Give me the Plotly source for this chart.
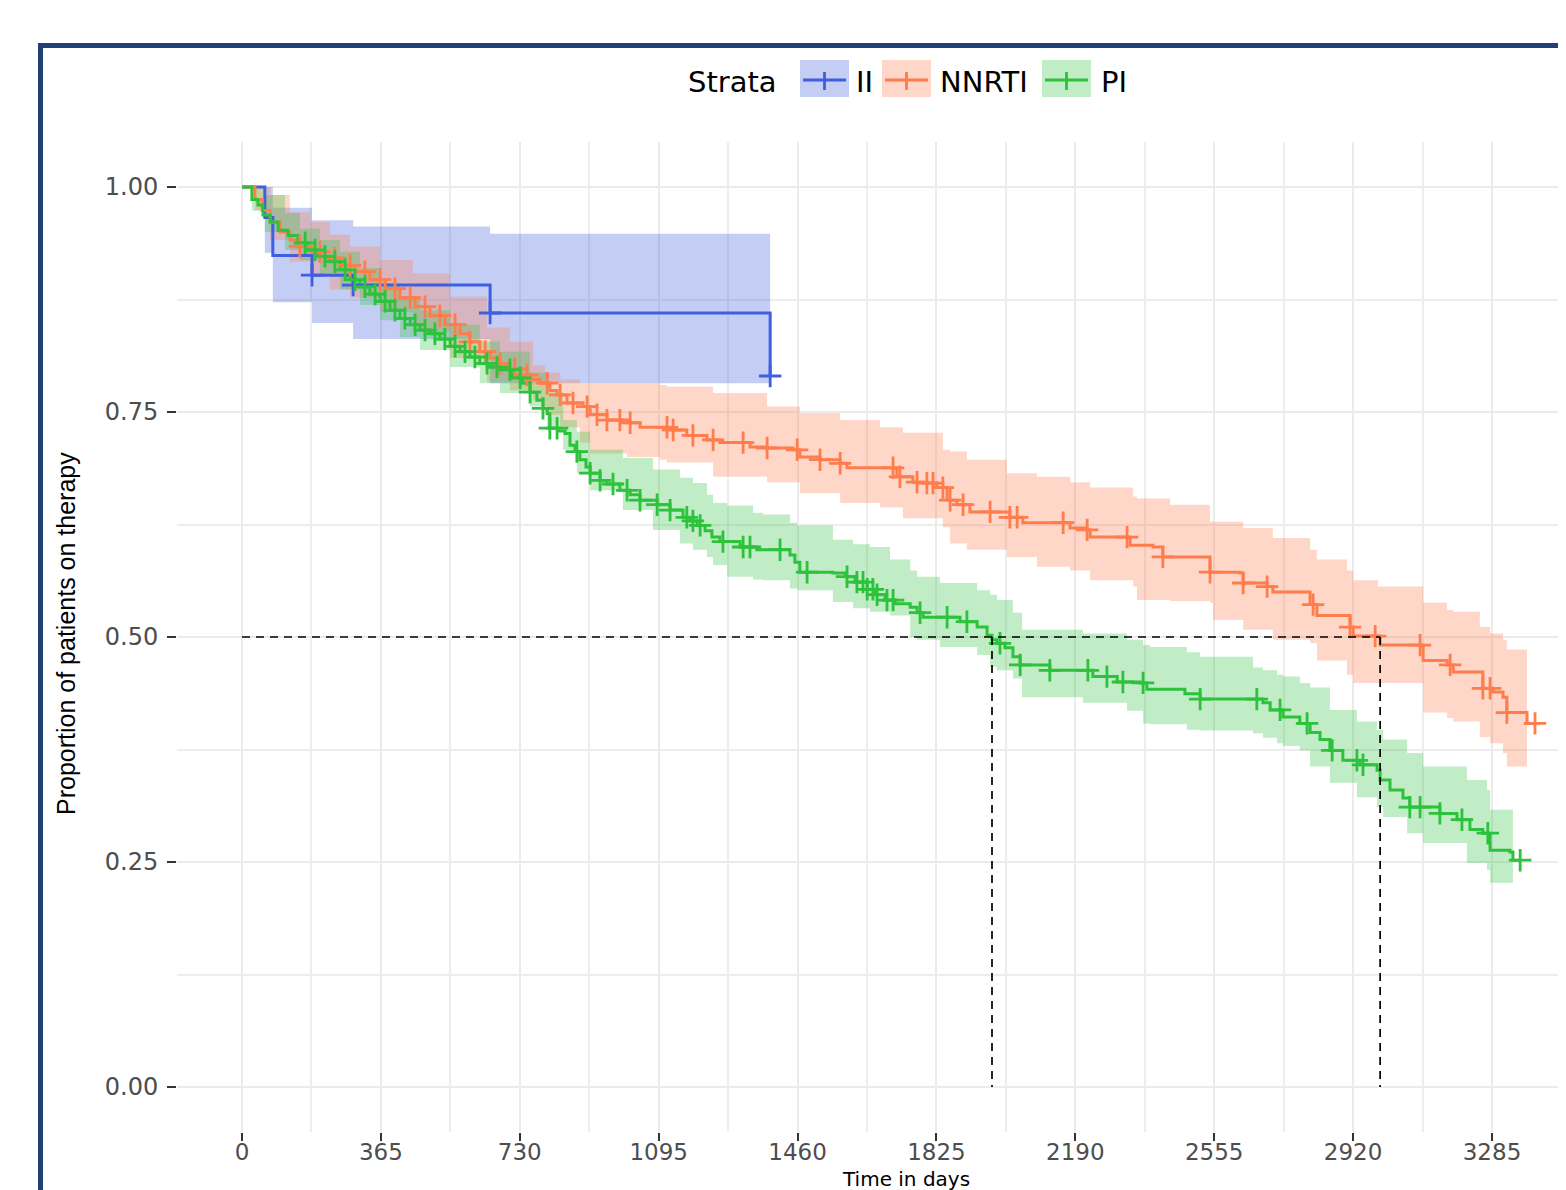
import numpy as np
import plotly.graph_objects as go

# ---------------- data (days, survival proportion) ----------------
strata = ["II", "NNRTI", "PI"]

ii_t = [0, 60, 81, 184, 292, 652, 1388]
ii_s = [1.0, 0.966, 0.924, 0.902, 0.891, 0.86, 0.79]
ii_end = 1388
ii_band_t = [0, 60, 81, 184, 292, 652, 1388]
ii_upper = [1.0, 1.0, 0.977, 0.963, 0.956, 0.948, 0.79]
ii_lower = [1.0, 0.927, 0.872, 0.849, 0.831, 0.782, 0.79]
ii_band_end = 1388
ii_censor = [184, 292, 652, 1388]

nn_t = [0, 34, 53, 74, 100, 126, 152, 184, 218, 258, 297, 336, 376, 415, 455, 494, 533,
        573, 599, 625, 652, 678, 704, 731, 757, 783, 809, 828, 854, 896, 915, 959, 1012,
        1046, 1133, 1169, 1222, 1256, 1335, 1380, 1448, 1466, 1519, 1572, 1590, 1721, 1763,
        1790, 1826, 1853, 1879, 1913, 2018, 2052, 2176, 2221, 2229, 2334, 2394, 2420, 2544,
        2623, 2631, 2694, 2709, 2807, 2825, 2912, 2920, 2991, 3104, 3167, 3183, 3261, 3287,
        3314, 3324, 3377]
nn_s = [1.0, 0.986, 0.974, 0.961, 0.950, 0.941, 0.934, 0.928, 0.921, 0.913, 0.906, 0.897,
        0.887, 0.877, 0.867, 0.857, 0.847, 0.837, 0.828, 0.817, 0.810, 0.804, 0.798, 0.791,
        0.786, 0.782, 0.774, 0.769, 0.760, 0.756, 0.747, 0.741, 0.738, 0.733, 0.730, 0.724,
        0.719, 0.716, 0.711, 0.710, 0.708, 0.700, 0.697, 0.693, 0.688, 0.678, 0.672, 0.671,
        0.666, 0.652, 0.647, 0.639, 0.633, 0.627, 0.621, 0.619, 0.611, 0.602, 0.600, 0.589,
        0.572, 0.571, 0.560, 0.556, 0.550, 0.536, 0.524, 0.511, 0.501, 0.491, 0.474, 0.469,
        0.461, 0.443, 0.439, 0.433, 0.416, 0.404]
nn_end = 3398
nn_band_t = [0, 34, 74, 126, 179, 231, 284, 363, 449, 547, 644, 704, 765, 796, 836, 888,
             915, 1012, 1098, 1117, 1238, 1380, 1466, 1572, 1677, 1737, 1842, 1861, 1905,
             2010, 2089, 2176, 2229, 2342, 2352, 2439, 2544, 2552, 2631, 2709, 2807, 2825,
             2904, 2920, 2985, 3104, 3167, 3183, 3253, 3280, 3314, 3324]
nn_upper = [1.0, 1.0, 0.991, 0.972, 0.961, 0.947, 0.934, 0.919, 0.904, 0.878, 0.844, 0.828,
            0.802, 0.794, 0.786, 0.782, 0.782, 0.782, 0.780, 0.778, 0.771, 0.756, 0.749,
            0.741, 0.733, 0.727, 0.708, 0.706, 0.697, 0.682, 0.678, 0.672, 0.666, 0.656,
            0.654, 0.647, 0.628, 0.628, 0.621, 0.610, 0.597, 0.586, 0.574, 0.563, 0.556,
            0.538, 0.530, 0.528, 0.511, 0.504, 0.497, 0.486]
nn_lower = [1.0, 0.974, 0.941, 0.917, 0.902, 0.886, 0.877, 0.861, 0.839, 0.810, 0.783, 0.774,
            0.763, 0.747, 0.733, 0.716, 0.704, 0.700, 0.697, 0.694, 0.678, 0.672, 0.660,
            0.649, 0.644, 0.632, 0.622, 0.604, 0.597, 0.589, 0.578, 0.574, 0.563, 0.556,
            0.541, 0.540, 0.538, 0.519, 0.508, 0.497, 0.493, 0.474, 0.458, 0.449, 0.449,
            0.416, 0.410, 0.406, 0.389, 0.382, 0.371, 0.356]
nn_band_end = 3377
nn_censor = [152, 205, 244, 284, 323, 363, 402, 442, 481, 520, 560, 599, 639, 678, 717, 749,
             802, 836, 870, 907, 933, 959, 993, 1020, 1117, 1133, 1185, 1238, 1317, 1380,
             1459, 1519, 1572, 1711, 1729, 1774, 1800, 1816, 1842, 1861, 1895, 1966, 2018,
             2037, 2158, 2221, 2326, 2420, 2544, 2631, 2694, 2815, 2912, 2978, 3096, 3175,
             3261, 3280, 3324, 3398]

pi_t = [0, 26, 42, 55, 74, 95, 121, 147, 173, 200, 231, 258, 284, 310, 336, 363, 389, 415,
        442, 468, 494, 520, 547, 573, 599, 625, 652, 678, 710, 738, 757, 775, 791, 802, 809,
        830, 849, 862, 875, 888, 904, 915, 941, 959, 993, 1020, 1046, 1091, 1125, 1159, 1177,
        1196, 1217, 1235, 1256, 1309, 1353, 1440, 1453, 1466, 1553, 1585, 1611, 1643, 1664,
        1690, 1716, 1756, 1774, 1790, 1887, 1932, 1958, 1971, 1984, 2005, 2026, 2045, 2123,
        2236, 2300, 2360, 2378, 2478, 2518, 2683, 2702, 2736, 2780, 2807, 2833, 2859, 2893,
        2938, 2983, 2991, 3017, 3051, 3069, 3148, 3193, 3227, 3261, 3280, 3332, 3340]
pi_s = [1.0, 0.986, 0.980, 0.969, 0.961, 0.952, 0.946, 0.938, 0.930, 0.923, 0.917, 0.908,
        0.897, 0.889, 0.881, 0.873, 0.863, 0.854, 0.847, 0.841, 0.837, 0.831, 0.823, 0.817,
        0.811, 0.804, 0.800, 0.797, 0.788, 0.782, 0.772, 0.763, 0.754, 0.748, 0.732, 0.729,
        0.726, 0.713, 0.706, 0.697, 0.689, 0.682, 0.674, 0.670, 0.663, 0.658, 0.652, 0.647,
        0.641, 0.633, 0.629, 0.624, 0.618, 0.611, 0.606, 0.600, 0.597, 0.591, 0.583, 0.572,
        0.571, 0.567, 0.561, 0.553, 0.547, 0.541, 0.537, 0.533, 0.527, 0.522, 0.517, 0.511,
        0.502, 0.497, 0.493, 0.488, 0.478, 0.469, 0.463, 0.456, 0.450, 0.449, 0.442, 0.437,
        0.431, 0.427, 0.419, 0.411, 0.404, 0.394, 0.386, 0.374, 0.363, 0.358, 0.352, 0.341,
        0.330, 0.321, 0.311, 0.304, 0.297, 0.286, 0.282, 0.263, 0.261, 0.252]
pi_end = 3359
pi_band_t = [0, 26, 60, 113, 152, 205, 258, 310, 363, 415, 468, 547, 625, 678, 757, 802,
             844, 880, 915, 1001, 1080, 1151, 1185, 1222, 1238, 1275, 1343, 1369, 1440, 1459,
             1553, 1606, 1650, 1703, 1756, 1774, 1834, 1932, 1966, 1984, 2026, 2050, 2210,
             2326, 2368, 2386, 2483, 2518, 2657, 2683, 2720, 2736, 2780, 2807, 2859, 2930,
             2983, 2999, 3062, 3104, 3219, 3272, 3280]
pi_upper = [1.0, 1.0, 0.991, 0.971, 0.954, 0.941, 0.928, 0.910, 0.893, 0.877, 0.863, 0.847,
            0.828, 0.817, 0.794, 0.772, 0.741, 0.728, 0.708, 0.699, 0.686, 0.677, 0.671,
            0.658, 0.649, 0.646, 0.638, 0.636, 0.627, 0.624, 0.608, 0.603, 0.600, 0.586,
            0.574, 0.567, 0.560, 0.552, 0.547, 0.541, 0.527, 0.508, 0.504, 0.497, 0.491,
            0.489, 0.483, 0.478, 0.466, 0.463, 0.458, 0.456, 0.449, 0.444, 0.419, 0.406,
            0.397, 0.386, 0.371, 0.356, 0.341, 0.330, 0.308]
pi_lower = [1.0, 0.974, 0.950, 0.930, 0.919, 0.902, 0.886, 0.869, 0.852, 0.833, 0.819, 0.800,
            0.782, 0.771, 0.756, 0.733, 0.708, 0.682, 0.663, 0.641, 0.619, 0.604, 0.597,
            0.589, 0.580, 0.567, 0.564, 0.563, 0.554, 0.552, 0.539, 0.532, 0.528, 0.524,
            0.500, 0.497, 0.489, 0.480, 0.467, 0.463, 0.454, 0.433, 0.427, 0.418, 0.404,
            0.403, 0.397, 0.396, 0.393, 0.388, 0.382, 0.379, 0.374, 0.356, 0.338, 0.322,
            0.311, 0.300, 0.282, 0.271, 0.249, 0.241, 0.227]
pi_band_end = 3340
pi_censor = [166, 192, 218, 244, 271, 297, 323, 350, 376, 402, 428, 455, 481, 507, 533, 560,
             586, 612, 644, 670, 704, 731, 757, 791, 809, 828, 880, 915, 941, 975, 1012, 1046,
             1091, 1125, 1169, 1185, 1204, 1264, 1317, 1335, 1414, 1485, 1590, 1616, 1632,
             1643, 1658, 1669, 1695, 1711, 1782, 1853, 1905, 1992, 2045, 2123, 2223, 2273,
             2315, 2368, 2518, 2667, 2728, 2799, 2865, 2930, 2946, 3069, 3096, 3148, 3206,
             3274, 3359]

x_ticks = [0, 365, 730, 1095, 1460, 1825, 2190, 2555, 2920, 3285]
y_ticks = [0.0, 0.25, 0.5, 0.75, 1.0]

# ---------------- styling ----------------
colors = {"II": "#3F5EE0", "NNRTI": "#FF7C4C", "PI": "#2CC23C"}
fills = {"II": "rgba(64,96,224,0.31)", "NNRTI": "rgba(255,127,79,0.31)",
         "PI": "rgba(47,194,63,0.30)"}

W, H = 1566, 1190
OFF = 8  # page body margin offset
# target plot-area edges in the final picture (pixels)
P_LEFT, P_RIGHT, P_TOP, P_BOTTOM = 177, 1566, 142, 1132
ML = P_LEFT - OFF
MT = P_TOP - OFF
MR = W - (P_RIGHT - OFF)
MB = H - (P_BOTTOM - OFF)
PW, PH = W - ML - MR, H - MT - MB


def px_x(p):
    return (p - P_LEFT) / PW


def px_y(p):
    return (P_BOTTOM - p) / PH


def step_path(t, v, t_end):
    xs, ys = [], []
    for i in range(len(t)):
        nxt = t[i + 1] if i + 1 < len(t) else t_end
        xs += [t[i], nxt]
        ys += [v[i], v[i]]
    return xs, ys


def surv_at(t, s, q):
    idx = np.searchsorted(np.array(t), np.array(q), side="right") - 1
    return list(np.array(s)[idx])


data = {
    "II": (ii_t, ii_s, ii_end, ii_band_t, ii_upper, ii_lower, ii_band_end, ii_censor),
    "NNRTI": (nn_t, nn_s, nn_end, nn_band_t, nn_upper, nn_lower, nn_band_end, nn_censor),
    "PI": (pi_t, pi_s, pi_end, pi_band_t, pi_upper, pi_lower, pi_band_end, pi_censor),
}

fig = go.Figure()

# confidence bands
for k in strata:
    t, s, te, bt, bu, bl, be, cen = data[k]
    ux, uy = step_path(bt, bu, be)
    lx, ly = step_path(bt, bl, be)
    fig.add_trace(go.Scatter(x=ux + lx[::-1], y=uy + ly[::-1], fill="toself",
                             fillcolor=fills[k], mode="lines",
                             line=dict(width=0, color="rgba(0,0,0,0)"),
                             hoverinfo="skip", showlegend=False))

# survival curves
for k in strata:
    t, s, te, bt, bu, bl, be, cen = data[k]
    fig.add_trace(go.Scatter(x=list(t) + [te], y=list(s) + [s[-1]], mode="lines",
                             line=dict(color=colors[k], width=3, shape="hv"),
                             hoverinfo="skip", showlegend=False))

# censor marks
for k in strata:
    t, s, te, bt, bu, bl, be, cen = data[k]
    fig.add_trace(go.Scatter(x=cen, y=surv_at(t, s, cen), mode="markers",
                             marker=dict(symbol="cross-thin", size=16,
                                         line=dict(width=2.8, color=colors[k])),
                             hoverinfo="skip", showlegend=False))

# median survival lines
medians = []
for k in ["NNRTI", "PI"]:
    t, s = data[k][0], data[k][1]
    medians.append(next(tt for tt, ss in zip(t, s) if ss <= 0.5))
dash_style = dict(color="black", width=1.7, dash="8px,6px")
fig.add_trace(go.Scatter(x=[0, max(medians)], y=[0.5, 0.5], mode="lines",
                         line=dash_style, hoverinfo="skip", showlegend=False))
for m in medians:
    fig.add_trace(go.Scatter(x=[m, m], y=[0.5, 0.0], mode="lines",
                             line=dash_style, hoverinfo="skip", showlegend=False))

tick_font = dict(family="DejaVu Sans", size=24, color="#4D4D4D")

px_per_day = 1250 / 3285
fig.update_xaxes(range=[(P_LEFT - 242) / px_per_day, (P_RIGHT - 242) / px_per_day],
                 tickmode="array", tickvals=x_ticks, ticktext=[str(v) for v in x_ticks],
                 showgrid=True, gridcolor="#EBEBEB", gridwidth=1.8,
                 minor=dict(tickmode="linear", tick0=182.5, dtick=365, showgrid=True,
                            gridcolor="#EDEDED", gridwidth=1.5, ticks=""),
                 zeroline=False, showline=False, ticks="outside", ticklen=8,
                 tickwidth=1.8, tickcolor="#333333",
                 tickfont=dict(family="DejaVu Sans", size=23, color="#4D4D4D"),
                 ticklabelstandoff=-9)
fig.update_yaxes(range=[-0.05, 1.05], tickmode="array", tickvals=y_ticks,
                 ticktext=[f"{v:.2f}" for v in y_ticks],
                 showgrid=True, gridcolor="#EBEBEB", gridwidth=1.8,
                 minor=dict(tickmode="linear", tick0=0.125, dtick=0.25, showgrid=True,
                            gridcolor="#EDEDED", gridwidth=1.5, ticks=""),
                 zeroline=False, showline=False, ticks="outside", ticklen=9,
                 tickwidth=1.8, tickcolor="#333333", tickfont=tick_font,
                 ticklabelstandoff=4)

shapes = []
annotations = []

# outer dark frame
shapes.append(dict(type="rect", xref="paper", yref="paper",
                   x0=px_x(40.5), x1=px_x(1620), y0=px_y(45.5), y1=px_y(1240),
                   line=dict(color="#1F4175", width=5), fillcolor="rgba(0,0,0,0)",
                   layer="above"))

# axis titles
annotations.append(dict(text="Proportion of patients on therapy", xref="paper", yref="paper",
                        x=px_x(66), y=px_y(634), textangle=-90, showarrow=False,
                        xanchor="center", yanchor="middle",
                        font=dict(family="Liberation Sans", size=25, color="black")))
annotations.append(dict(text="Time in days", xref="paper", yref="paper",
                        x=px_x(906), y=px_y(1192), showarrow=False,
                        xanchor="center", yanchor="bottom", borderpad=0,
                        font=dict(family="DejaVu Sans", size=20, color="black")))

# manual legend
leg_font = dict(family="DejaVu Sans", size=29, color="black")
annotations.append(dict(text="Strata", xref="paper", yref="paper", x=px_x(686),
                        y=px_y(82), xanchor="left", yanchor="middle", showarrow=False,
                        font=leg_font))
key_left = {"II": 800, "NNRTI": 882, "PI": 1042}
label_left = {"II": 854, "NNRTI": 938, "PI": 1099}
for k in strata:
    x0 = key_left[k]
    shapes.append(dict(type="rect", xref="paper", yref="paper",
                       x0=px_x(x0), x1=px_x(x0 + 49), y0=px_y(97), y1=px_y(60),
                       line=dict(width=0), fillcolor=fills[k]))
    shapes.append(dict(type="line", xref="paper", yref="paper",
                       x0=px_x(x0 + 3), x1=px_x(x0 + 46), y0=px_y(80), y1=px_y(80),
                       line=dict(color=colors[k], width=3)))
    shapes.append(dict(type="line", xref="paper", yref="paper",
                       x0=px_x(x0 + 24.5), x1=px_x(x0 + 24.5), y0=px_y(72), y1=px_y(90),
                       line=dict(color=colors[k], width=2.8)))
    annotations.append(dict(text=k, xref="paper", yref="paper", x=px_x(label_left[k]),
                            y=px_y(82), xanchor="left", yanchor="middle", showarrow=False,
                            font=leg_font))

fig.update_layout(width=W, height=H, autosize=False,
                  margin=dict(l=ML, r=MR, t=MT, b=MB, pad=0),
                  plot_bgcolor="white", paper_bgcolor="white",
                  showlegend=False, shapes=shapes, annotations=annotations,
                  font=dict(family="DejaVu Sans"))

fig.write_html("out.html")
